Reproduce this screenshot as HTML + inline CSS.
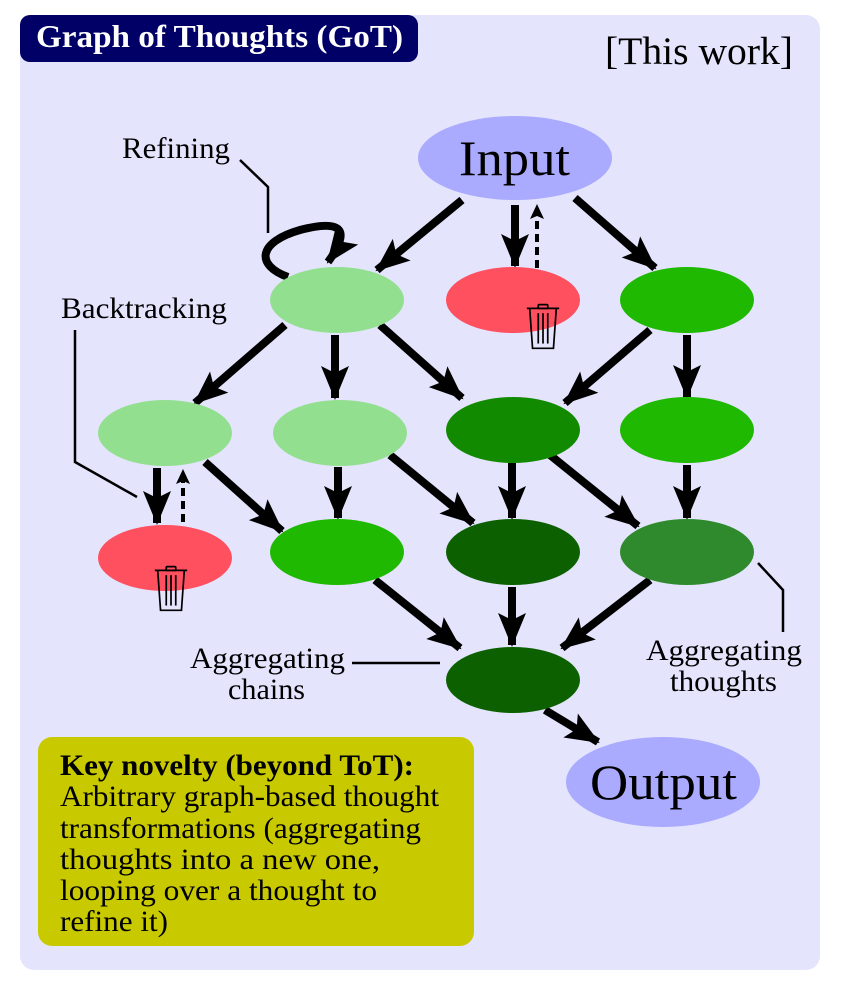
<!DOCTYPE html>
<html><head><style>body{margin:0;background:#fff}svg{display:block}</style></head><body>
<svg width="844" height="988" viewBox="0 0 844 988" xmlns="http://www.w3.org/2000/svg" font-family="Liberation Serif, serif">
<defs>
<marker id="ah" markerUnits="userSpaceOnUse" markerWidth="36" markerHeight="36" viewBox="0 0 36 36" refX="32" refY="18" orient="auto"><path d="M0,4 L34,18 L0,32 L7,18 Z" fill="#000"/></marker>
<marker id="ahs" markerUnits="userSpaceOnUse" markerWidth="16" markerHeight="16" viewBox="0 0 16 16" refX="14" refY="8" orient="auto"><path d="M0,1 L15,8 L0,15 L3,8 Z" fill="#000"/></marker>
<g id="trash" stroke="#000" stroke-width="1.8" fill="none">
<rect x="-5" y="-12" width="10" height="4" rx="1"/>
<line x1="-17" y1="-8" x2="17" y2="-8"/>
<path d="M-14,-8 L-11,34 L11,34 L14,-8"/>
<line x1="-5" y1="-3" x2="-5" y2="29"/><line x1="0" y1="-3" x2="0" y2="29"/><line x1="5" y1="-3" x2="5" y2="29"/>
</g>
</defs>
<rect x="20" y="15" width="800" height="955" rx="14" fill="#e4e4fd"/>
<rect x="20" y="15" width="398" height="47" rx="10" fill="#000066"/>
<text x="36" y="47" font-size="32" font-weight="bold" fill="#fff" textLength="367" lengthAdjust="spacingAndGlyphs">Graph of Thoughts (GoT)</text>
<text x="605" y="64" font-size="39" textLength="188" lengthAdjust="spacingAndGlyphs">[This work]</text>

<g stroke="#000" stroke-width="8" fill="none" marker-end="url(#ah)">
<line x1="462" y1="200" x2="377" y2="270"/>
<line x1="515" y1="205" x2="515" y2="266"/>
<line x1="575" y1="198" x2="655" y2="268"/>
<line x1="285" y1="325" x2="195" y2="403"/>
<line x1="335" y1="335" x2="335" y2="398"/>
<line x1="380" y1="325" x2="462" y2="398"/>
<line x1="650" y1="330" x2="565" y2="403"/>
<line x1="687" y1="335" x2="687" y2="397"/>
<line x1="157" y1="468" x2="157" y2="523"/>
<line x1="205" y1="462" x2="282" y2="531"/>
<line x1="338" y1="467" x2="338" y2="518"/>
<line x1="390" y1="455" x2="473" y2="523"/>
<line x1="512" y1="463" x2="512" y2="518"/>
<line x1="550" y1="455" x2="638" y2="526"/>
<line x1="687" y1="465" x2="687" y2="518"/>
<line x1="375" y1="580" x2="460" y2="648"/>
<line x1="512" y1="587" x2="512" y2="645"/>
<line x1="650" y1="580" x2="562" y2="648"/>
<line x1="545" y1="710" x2="598" y2="742"/>
<path d="M288,277 C255,265 258,242 300,230 C345,218 350,232 328,262"/>
</g>
<g stroke="#000" stroke-width="4" fill="none" stroke-dasharray="8,5" marker-end="url(#ahs)">
<line x1="537" y1="268" x2="537" y2="205"/>
<line x1="183" y1="522" x2="183" y2="470"/>
</g>
<g stroke="#000" stroke-width="2.5" fill="none">
<polyline points="240,160 268,187 268,233"/>
<polyline points="75,330 75,462 137,497"/>
<line x1="352" y1="663" x2="440" y2="663"/>
<polyline points="758,563 783,590 783,632"/>
</g>

<ellipse cx="515" cy="158" rx="97" ry="42" fill="#aaaaff"/>
<ellipse cx="337" cy="300" rx="67" ry="33" fill="#92e08f"/>
<ellipse cx="513" cy="300" rx="67" ry="33" fill="#ff5060"/>
<ellipse cx="687" cy="300" rx="67" ry="33" fill="#1eb900"/>
<ellipse cx="165" cy="433" rx="67" ry="33" fill="#92e08f"/>
<ellipse cx="340" cy="433" rx="67" ry="33" fill="#92e08f"/>
<ellipse cx="513" cy="430" rx="67" ry="33" fill="#128a00"/>
<ellipse cx="687" cy="430" rx="67" ry="33" fill="#1eb900"/>
<ellipse cx="165" cy="558" rx="67" ry="33" fill="#ff5060"/>
<ellipse cx="337" cy="552" rx="67" ry="33" fill="#1eb900"/>
<ellipse cx="513" cy="552" rx="67" ry="33" fill="#0c6000"/>
<ellipse cx="687" cy="552" rx="67" ry="33" fill="#2e8a2c"/>
<ellipse cx="513" cy="680" rx="67" ry="33" fill="#0c6000"/>
<ellipse cx="663" cy="782" rx="97" ry="45" fill="#aaaaff"/>

<use href="#trash" transform="translate(543,316) scale(0.95)"/>
<use href="#trash" transform="translate(171,578) scale(0.95)"/>

<text x="459" y="175" font-size="50" textLength="111" lengthAdjust="spacingAndGlyphs">Input</text>
<text x="590" y="799" font-size="50" textLength="147" lengthAdjust="spacingAndGlyphs">Output</text>
<g font-size="30">
<text x="122" y="158" textLength="108" lengthAdjust="spacingAndGlyphs">Refining</text>
<text x="61" y="318" textLength="166" lengthAdjust="spacingAndGlyphs">Backtracking</text>
<text x="190" y="668" textLength="155" lengthAdjust="spacingAndGlyphs">Aggregating</text>
<text x="228" y="699" textLength="77" lengthAdjust="spacingAndGlyphs">chains</text>
<text x="646" y="660" textLength="156" lengthAdjust="spacingAndGlyphs">Aggregating</text>
<text x="670" y="691" textLength="107" lengthAdjust="spacingAndGlyphs">thoughts</text>
</g>

<rect x="38" y="737" width="436" height="209" rx="14" fill="#c9c900"/>
<g font-size="30">
<text x="60" y="775" font-weight="bold" textLength="354" lengthAdjust="spacingAndGlyphs">Key novelty (beyond ToT):</text>
<text x="60" y="806" textLength="379" lengthAdjust="spacingAndGlyphs">Arbitrary graph-based thought</text>
<text x="60" y="838" textLength="361" lengthAdjust="spacingAndGlyphs">transformations (aggregating</text>
<text x="60" y="869" textLength="320" lengthAdjust="spacingAndGlyphs">thoughts into a new one,</text>
<text x="60" y="900" textLength="317" lengthAdjust="spacingAndGlyphs">looping over a thought to</text>
<text x="60" y="931" textLength="108" lengthAdjust="spacingAndGlyphs">refine it)</text>
</g>
</svg>
</body></html>
